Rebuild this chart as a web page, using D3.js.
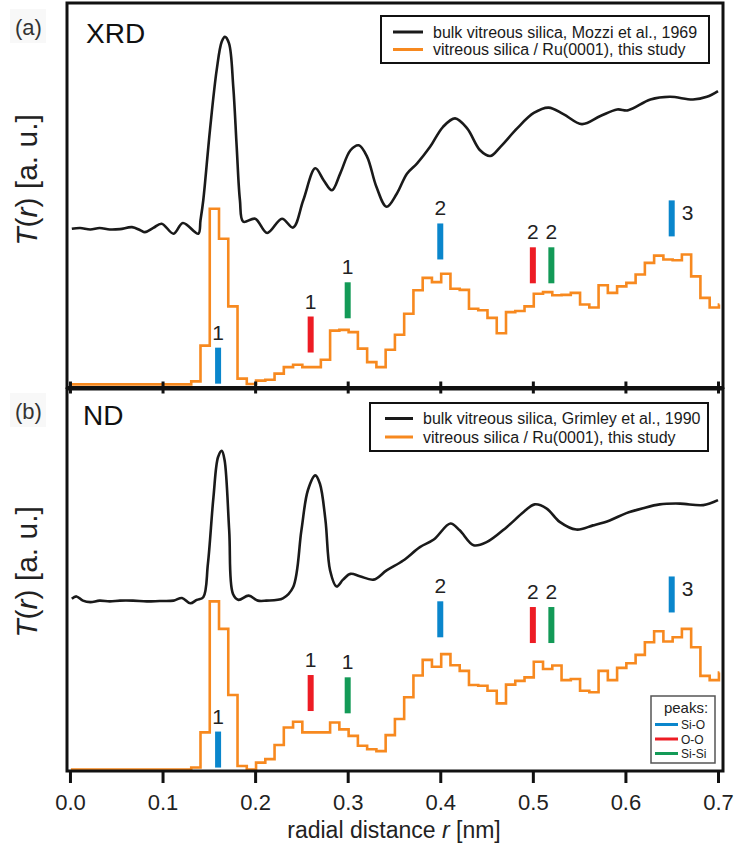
<!DOCTYPE html>
<html>
<head>
<meta charset="utf-8">
<script src="https://cdn.jsdelivr.net/npm/d3@7"></script>
<style>
  body { margin: 0; background: #fff; }
  svg { font-family: "Liberation Sans", Arial, sans-serif; }
</style>
</head>
<body>
<div id="chart"></div>
<script>
// x positions of the tick labels (nm)
const xTicks = [0.0, 0.1, 0.2, 0.3, 0.4, 0.5, 0.6, 0.7];

// bulk reference curves (r in nm, T in a.u.)
const xrdBulkR = [0.002, 0.011, 0.022, 0.032, 0.043, 0.054, 0.067, 0.076, 0.081, 0.090, 0.099, 0.112, 0.122, 0.1386,
  0.141, 0.144, 0.1512, 0.1585, 0.1639, 0.1674, 0.1718, 0.1764, 0.1801, 0.1836, 0.1872, 0.200, 0.213, 0.229, 0.241, 0.252, 0.265,
  0.274, 0.283, 0.292, 0.303, 0.312, 0.321, 0.331, 0.342, 0.353, 0.364, 0.375, 0.389, 0.403, 0.416, 0.429, 0.443,
  0.454, 0.465, 0.483, 0.501, 0.517, 0.533, 0.553, 0.573, 0.591, 0.603, 0.627, 0.648, 0.673, 0.688, 0.700];
const xrdBulkT = [41.3, 41.5, 41.1, 41.5, 41.1, 41.2, 41.7, 40.9, 40.4, 41.5, 42.6, 40.0, 42.8, 40.0,
  43.5, 48.7, 66.9, 82.6, 89.9, 91.2, 89.5, 78.2, 62.6, 48.7, 43.1, 43.9, 40.2, 43.9, 41.6, 48.7, 57.0,
  53.9, 51.3, 55.7, 61.7, 63.0, 60.0, 52.2, 47.0, 50.4, 55.6, 58.3, 62.6, 67.8, 70.0, 67.4, 61.7,
  60.2, 62.6, 67.4, 71.4, 72.8, 71.1, 68.5, 70.6, 72.3, 72.1, 74.9, 75.6, 74.9, 75.6, 77.1];

const ndBulkR = [0.002, 0.007, 0.014, 0.022, 0.032, 0.043, 0.054, 0.068, 0.083, 0.097, 0.112, 0.121, 0.130, 0.137,
  0.144, 0.149, 0.155, 0.160, 0.164, 0.167, 0.172, 0.176, 0.182, 0.193, 0.203, 0.212, 0.230, 0.241, 0.250, 0.257,
  0.265, 0.270, 0.276, 0.281, 0.288, 0.295, 0.303, 0.313, 0.328, 0.342, 0.360, 0.378, 0.393, 0.411, 0.421, 0.436,
  0.450, 0.472, 0.490, 0.502, 0.515, 0.529, 0.547, 0.565, 0.583, 0.601, 0.619, 0.637, 0.659, 0.684, 0.700];
const ndBulkT = [45.1, 45.7, 44.6, 44.2, 44.6, 44.4, 44.6, 44.6, 44.4, 44.5, 44.6, 45.3, 43.9, 44.8,
  45.5, 54.2, 71.7, 82.2, 83.8, 81.4, 63.0, 46.4, 44.8, 45.9, 44.6, 44.6, 45.2, 48.1, 63.0, 73.5,
  77.4, 75.2, 65.6, 52.5, 48.3, 50.1, 51.6, 51.0, 50.1, 52.5, 55.1, 58.6, 60.6, 64.8, 63.0, 59.1,
  59.9, 63.9, 67.8, 69.8, 68.7, 65.2, 63.2, 64.3, 65.6, 67.5, 68.8, 69.8, 70.0, 69.6, 70.9];

// film histograms, one value per 0.01 nm bin starting at 0.001 nm
const binStart = 0.001;
const binWidth = 0.01;
const xrdFilm = [0.8, 0.8, 0.8, 0.8, 0.8, 0.8, 0.8, 0.8, 0.8, 0.8, 0.8, 0.8, 0.8, 1.6, 10.9,
  46.5, 38.7, 21.1, 2.3, 0.9, 1.8, 2.0, 3.6, 5.3, 5.9, 5.3, 5.3, 7.2, 14.8, 15.0,
  14.4, 10.1, 6.6, 5.3, 9.8, 13.7, 19.2, 25.3, 28.5, 27.4, 29.6, 25.7, 25.4, 20.5, 20.1,
  18.1, 14.1, 19.6, 19.9, 21.1, 24.4, 24.8, 24.0, 24.1, 24.6, 21.6, 20.8, 26.6, 24.6, 26.3,
  27.2, 29.4, 32.4, 34.3, 33.3, 33.1, 34.6, 28.9, 23.3, 20.8, 21.6];
const ndFilm = [0.4, 0.4, 0.4, 0.4, 0.4, 0.4, 0.4, 0.4, 0.4, 0.4, 0.4, 0.4, 0.4, 0.9, 10.1,
  44.4, 37.2, 19.9, 1.3, 0.4, 2.2, 3.1, 6.8, 11.4, 12.9, 10.1, 10.1, 10.1, 12.7, 10.9,
  9.2, 6.6, 5.7, 5.2, 9.4, 13.6, 19.3, 25.0, 29.1, 27.3, 30.6, 27.7, 26.2, 22.5, 22.3,
  21.0, 17.7, 22.6, 23.6, 24.5, 28.6, 26.7, 27.6, 23.8, 24.1, 21.0, 20.6, 26.2, 23.8, 27.0,
  28.2, 30.4, 33.7, 36.6, 33.9, 35.0, 37.2, 32.4, 24.9, 23.8, 25.8];

// peak markers
const peakR = [0.16, 0.26, 0.30, 0.40, 0.50, 0.52, 0.65];
const peakType = ["Si-O", "O-O", "Si-Si", "Si-O", "O-O", "Si-Si", "Si-O"];
const peakOrder = ["1", "1", "1", "2", "2", "2", "3"];
const peakBaseXrd = [1.0, 9.1, 18.0, 33.3, 27.1, 27.1, 39.3];
const peakBaseNd = [0.9, 15.7, 15.1, 35.0, 33.5, 33.5, 41.5];
const peakTypes = ["Si-O", "O-O", "Si-Si"];
const peakColors = ["#0a86cc", "#ed1c24", "#139a57"];

const orange = "#f7891f";
const W = 734, H = 851;

const svg = d3.select("#chart").append("svg")
  .attr("width", W).attr("height", H);

const x = d3.scaleLinear().domain([-0.0032, 0.7054]).range([67, 723]);
const peakColor = d3.scaleOrdinal().domain(peakTypes).range(peakColors);

const panels = [
  { top: 3, bottom: 387.5, bulkR: xrdBulkR, bulkT: xrdBulkT, film: xrdFilm, base: peakBaseXrd,
    letter: "(a)", letterY: 35, tag: "XRD", tagY: 43, tagX: 86, ylabY: 180,
    legend: ["bulk vitreous silica, Mozzi et al., 1969", "vitreous silica / Ru(0001), this study"],
    legBox: [381, 16, 328, 47], legLineX: [393, 423], legY: [32, 49.5], legTextX: 433 },
  { top: 389, bottom: 771, bulkR: ndBulkR, bulkT: ndBulkT, film: ndFilm, base: peakBaseNd,
    letter: "(b)", letterY: 419, tag: "ND", tagY: 425, tagX: 83, ylabY: 572,
    legend: ["bulk vitreous silica, Grimley et al., 1990", "vitreous silica / Ru(0001), this study"],
    legBox: [370, 403, 338, 48], legLineX: [385, 413], legY: [418.5, 437], legTextX: 423 }
];

panels.forEach((p, pi) => {
  const y = d3.scaleLinear().domain([0, 100]).range([p.bottom, p.top]);
  const g = svg.append("g");

  // bulk curve
  const bulk = p.bulkR.map((r, i) => [r, p.bulkT[i]]);
  g.append("path")
    .datum(bulk)
    .attr("fill", "none")
    .attr("stroke", "#1a1a1a")
    .attr("stroke-width", 2.6)
    .attr("d", d3.line().x(d => x(d[0])).y(d => y(d[1])).curve(d3.curveCatmullRom.alpha(0.5)));

  // film histogram
  const steps = p.film.map((v, i) => [binStart + i * binWidth, v]);
  steps.push([0.7015, p.film[p.film.length - 1]]);
  g.append("path")
    .datum(steps)
    .attr("fill", "none")
    .attr("stroke", orange)
    .attr("stroke-width", 2.6)
    .attr("d", d3.line().x(d => x(d[0])).y(d => y(d[1])).curve(d3.curveStepAfter));

  // peak markers
  const peaks = peakR.map((r, i) => ({ r, type: peakType[i], label: peakOrder[i], base: p.base[i] }));
  const pg = g.selectAll(".peak").data(peaks).enter().append("g");
  pg.append("rect")
    .attr("x", d => x(d.r) - 3)
    .attr("width", 6)
    .attr("y", d => y(d.base) - 36)
    .attr("height", 36)
    .attr("fill", d => peakColor(d.type));
  pg.append("text")
    .attr("x", d => d.label === "3" ? x(d.r) + 16 : x(d.r))
    .attr("y", d => d.label === "3" ? y(d.base) - 16 : y(d.base) - 44)
    .attr("text-anchor", "middle")
    .attr("font-size", 21)
    .attr("fill", "#222")
    .text(d => d.label);

  // frame
  g.append("rect")
    .attr("x", x.range()[0]).attr("y", p.top)
    .attr("width", x.range()[1] - x.range()[0]).attr("height", p.bottom - p.top)
    .attr("fill", "none").attr("stroke", "#111").attr("stroke-width", 3);

  // x axis ticks
  const ax = g.append("g")
    .attr("transform", `translate(0,${p.bottom})`)
    .call(d3.axisBottom(x).tickValues(xTicks).tickSize(pi === 0 ? 6 : 12)
      .tickFormat(pi === 0 ? "" : d3.format(".1f")));
  ax.select(".domain").remove();
  ax.selectAll(".tick line").attr("stroke", "#111").attr("stroke-width", 3);
  if (pi === 0) ax.selectAll(".tick line").attr("y1", -6).attr("y2", 6);
  ax.selectAll(".tick text")
    .attr("y", 39).attr("dy", 0)
    .attr("font-size", 22).attr("fill", "#222")
    .attr("font-family", "'Liberation Sans', Arial, sans-serif");

  // panel letter with light backdrop
  g.append("rect").attr("x", 10).attr("y", p.letterY - 26).attr("width", 36).attr("height", 34)
    .attr("fill", "#f8f8f8");
  g.append("text").attr("x", 28.5).attr("y", p.letterY)
    .attr("text-anchor", "middle").attr("font-size", 22).attr("fill", "#333").text(p.letter);
  g.append("text").attr("x", p.tagX).attr("y", p.tagY)
    .attr("font-size", 28).attr("fill", "#111").text(p.tag);

  // y label
  const yl = g.append("text")
    .attr("transform", `translate(37,${p.ylabY}) rotate(-90)`)
    .attr("text-anchor", "middle").attr("font-size", 30).attr("fill", "#222");
  yl.append("tspan").attr("font-style", "italic").text("T");
  yl.append("tspan").text("(");
  yl.append("tspan").attr("font-style", "italic").text("r");
  yl.append("tspan").text(") [a. u.]");

  // legend
  const [lx, ly, lw, lh] = p.legBox;
  g.append("rect").attr("x", lx).attr("y", ly).attr("width", lw).attr("height", lh)
    .attr("fill", "#fff").attr("stroke", "#111").attr("stroke-width", 2);
  [["#1a1a1a", p.legend[0]], [orange, p.legend[1]]].forEach(([c, t], i) => {
    g.append("line").attr("x1", p.legLineX[0]).attr("x2", p.legLineX[1])
      .attr("y1", p.legY[i]).attr("y2", p.legY[i]).attr("stroke", c).attr("stroke-width", 3);
    g.append("text").attr("x", p.legTextX).attr("y", p.legY[i] + 5.5)
      .attr("font-size", 16).attr("fill", "#1a1a1a").text(t);
  });
});

// peaks legend (bottom panel)
const pl = svg.append("g");
pl.append("rect").attr("x", 651).attr("y", 696).attr("width", 64).attr("height", 67)
  .attr("fill", "#fff").attr("stroke", "#555").attr("stroke-width", 1.5);
pl.append("text").attr("x", 686).attr("y", 713).attr("text-anchor", "middle")
  .attr("font-size", 15).attr("fill", "#222").text("peaks:");
peakTypes.forEach((t, i) => {
  const yy = 724.5 + i * 14.5;
  pl.append("line").attr("x1", 655).attr("x2", 678).attr("y1", yy).attr("y2", yy)
    .attr("stroke", peakColor(t)).attr("stroke-width", 3);
  pl.append("text").attr("x", 681).attr("y", yy + 4.5)
    .attr("font-size", 12).attr("fill", "#222").text(t);
});

// x axis title
const xt = svg.append("text").attr("x", 394).attr("y", 838)
  .attr("text-anchor", "middle").attr("font-size", 23).attr("fill", "#222");
xt.append("tspan").text("radial distance ");
xt.append("tspan").attr("font-style", "italic").text("r");
xt.append("tspan").text(" [nm]");
</script>
</body>
</html>
